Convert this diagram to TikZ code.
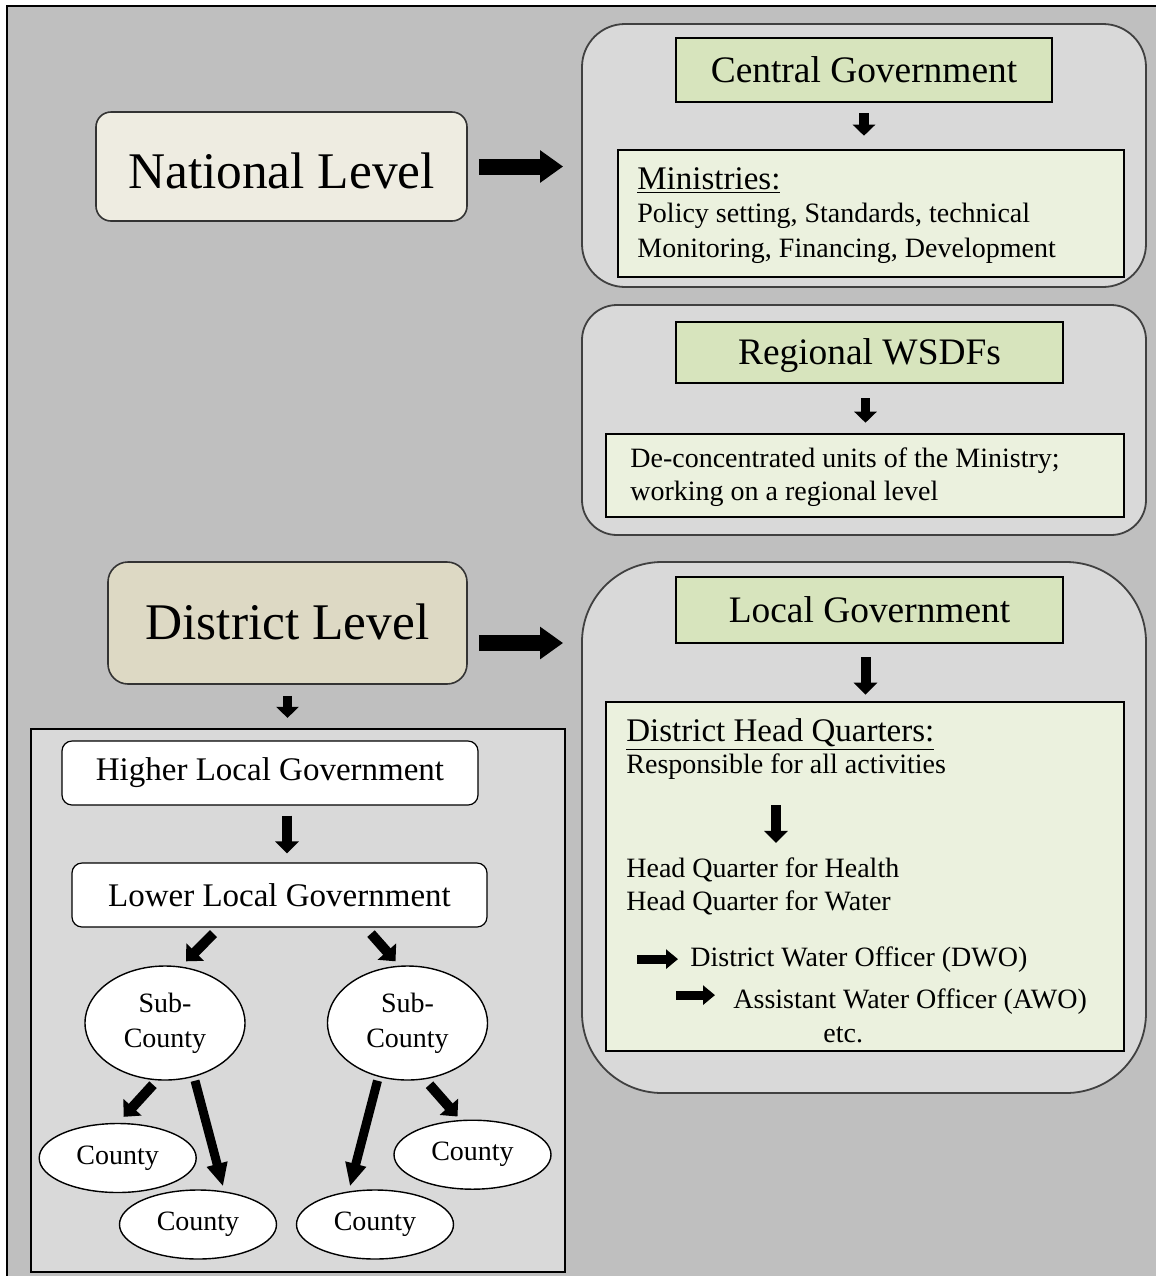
\documentclass[tikz,border=0pt]{standalone}
\usepackage{fontspec}
\setmainfont{Liberation Serif}
\usetikzlibrary{arrows.meta,shapes.geometric}
\definecolor{bggray}{HTML}{BFBFBF}
\definecolor{contgray}{HTML}{D9D9D9}
\definecolor{titlegreen}{HTML}{D7E4BD}
\definecolor{lightgreen}{HTML}{EBF1DE}
\definecolor{natlcream}{HTML}{EEECE1}
\definecolor{distbeige}{HTML}{DDD9C4}
\begin{document}
\begin{tikzpicture}[x=0.5pt,y=-0.5pt,
    cont/.style={draw=black!75,line width=0.9pt,fill=contgray,inner sep=0pt,minimum width=282pt},
    titlebox/.style={draw=black,line width=1.3pt,fill=titlegreen,inner sep=0pt,font=\fontsize{18.7}{22}\selectfont,text height=12.4pt,text depth=0pt},
    infobox/.style={draw=black,line width=1.3pt,fill=lightgreen,inner sep=0pt},
    levelbox/.style={draw=black!80,line width=0.8pt,inner sep=0pt,font=\fontsize{25.7}{30}\selectfont,text depth=0pt},
    govbox/.style={draw=black,line width=0.6pt,fill=white,rounded corners=5pt,inner sep=0pt,minimum height=32pt,font=\fontsize{16.5}{20}\selectfont},
    unit/.style={ellipse,draw=black,line width=0.7pt,fill=white,inner sep=0pt,align=center,font=\fontsize{14}{17.5}\selectfont},
    body/.style={anchor=base west,inner sep=0pt,font=\fontsize{14}{17.5}\selectfont},
    head/.style={anchor=base west,inner sep=0pt,font=\fontsize{16.5}{20}\selectfont},
    bigarr/.style={line width=8pt,-{Triangle[width=15.5pt,length=11.5pt]}},
    downarr/.style={line width=4.75pt,-{Triangle[width=11pt,length=5.5pt]}},
    midarr/.style={line width=5pt,-{Triangle[width=11.5pt,length=6pt]}},
    harr/.style={line width=4.5pt,-{Triangle[width=9.5pt,length=6pt]}},
    diagarr/.style={line width=5pt,-{Triangle[width=12pt,length=6.5pt]}},
    longarr/.style={line width=4.5pt,-{Triangle[width=10pt,length=11.5pt]}}]
\useasboundingbox (0,0) rectangle (1156,1276);
\fill[bggray] (7,6) rectangle (1156,1276);
\draw[line width=1pt] (7,1276) -- (7,6) -- (1156,6);

\node[cont,minimum height=131.5pt,rounded corners=21.5pt] (topc) at (864,155.5) {};
\node[cont,minimum height=115pt,rounded corners=17.5pt] (regc) at (864,420) {};
\node[cont,minimum height=265.5pt,rounded corners=40pt] (locc) at (864,827.5) {};

\node[titlebox,minimum width=188pt,minimum height=32pt] (cg) at (864,70) {Central Government};
\node[infobox,minimum width=253pt,minimum height=63.5pt] (mi) at (871,213.5) {};
\node[head] (mit) at (637,189) {\underline{Ministries:}};
\node[body] (mi1) at (637,222) {Policy setting, Standards, technical};
\node[body] (mi2) at (637,257) {Monitoring, Financing, Development};
\draw[downarr,shorten <=5pt,shorten >=6.5pt] (cg.south) -- (cg.south |- mi.north);

\node[titlebox,minimum width=193.5pt,minimum height=30.5pt] (rw) at (869.5,352.5) {Regional WSDFs};
\node[infobox,minimum width=259pt,minimum height=41.5pt] (dc) at (865,475.5) {};
\node[body] (dc1) at (630,467) {De-concentrated units of the Ministry;};
\node[body] (dc2) at (630,500) {working on a regional level};
\draw[downarr,shorten <=7pt,shorten >=5pt] ([xshift=-2pt]rw.south) -- ([xshift=-2pt]rw.south |- dc.north);

\node[titlebox,minimum width=193.5pt,minimum height=33pt] (lg) at (869.5,610) {Local Government};
\node[infobox,minimum width=259pt,minimum height=174.5pt] (hq) at (865,876.5) {};
\draw[midarr,shorten <=6.5pt,shorten >=3pt] ([xshift=-2pt]lg.south) -- ([xshift=-2pt]lg.south |- hq.north);
\node[head] (hqt) at (626,741) {\underline{District Head Quarters:}};
\node[body] (resp) at (626,773) {Responsible for all activities};
\node[body] (hqh) at (626,877) {Head Quarter for Health};
\node[body] (hqw) at (626,910) {Head Quarter for Water};
\node[body] (dwo) at (690,966) {District Water Officer (DWO)};
\node[body] (awo) at (733,1008) {Assistant Water Officer (AWO)};
\node[body] (etc) at (823,1042) {etc.};
\coordinate (hqx) at (776,0);
\draw[midarr,shorten <=13pt,shorten >=7pt] (resp.south -| hqx) -- (hqh.north -| hqx);
\draw[harr,shorten >=6pt] ([xshift=-26.5pt]dwo.west) -- (dwo.west);
\draw[harr,shorten >=9pt] ([xshift=-28.5pt,yshift=3pt]awo.west) -- ([yshift=3pt]awo.west);

\node[levelbox,fill=natlcream,rounded corners=7.5pt,minimum width=185.5pt,minimum height=54.5pt,text height=21.6pt] (natl) at (281.5,166.5) {National Level};
\node[levelbox,fill=distbeige,rounded corners=10pt,minimum width=179.5pt,minimum height=61pt,text height=16.4pt] (dist) at (287.5,623) {District Level};
\draw[bigarr,shorten <=5.5pt,shorten >=9pt] (natl.east) -- (natl.east -| topc.west);
\draw[bigarr,shorten <=5.5pt,shorten >=9pt] ([yshift=-10pt]dist.east) -- ([yshift=-10pt]dist.east -| locc.west);

\node[draw=black,line width=1.1pt,fill=contgray,inner sep=0pt,minimum width=267pt,minimum height=271.5pt] (lowbox) at (298,1000.5) {};
\draw[downarr,shorten <=5.5pt,shorten >=5pt] (dist.south) -- (dist.south |- lowbox.north);
\node[govbox,minimum width=208pt] (hlg) at (270,773) {Higher Local Government};
\node[govbox,minimum width=207.5pt] (llg) at (279.5,895) {Lower Local Government};
\draw[midarr,shorten <=5pt,shorten >=4.5pt] ([xshift=8.5pt]hlg.south) -- ([xshift=8.5pt]hlg.south |- llg.north);

\node[unit,minimum width=80pt,minimum height=57pt] (sc1) at (165,1023) {Sub-\\County};
\node[unit,minimum width=80pt,minimum height=57pt] (sc2) at (407.5,1023) {Sub-\\County};
\node[unit,minimum width=78.5pt,minimum height=34.5pt] (cl1) at (117.7,1158) {County};
\node[unit,minimum width=78.5pt,minimum height=34.5pt] (cl2) at (198,1224.5) {County};
\node[unit,minimum width=78.5pt,minimum height=34.5pt] (cr2) at (375,1224.5) {County};
\node[unit,minimum width=78.5pt,minimum height=34.5pt] (cr1) at (472.5,1154.7) {County};

\draw[diagarr] ([xshift=-33pt,yshift=-3pt]llg.south) -- ([xshift=10.5pt,yshift=2pt]sc1.north);
\draw[diagarr] ([xshift=45.75pt,yshift=-3pt]llg.south) -- ([xshift=-6pt,yshift=2pt]sc2.north);
\draw[diagarr] ([xshift=-6pt,yshift=-2pt]sc1.south) -- ([xshift=3pt,yshift=3pt]cl1.north);
\draw[longarr] ([xshift=15pt]sc1.south) -- ([xshift=12.5pt,yshift=1.5pt]cl2.north);
\draw[longarr] ([xshift=-15pt]sc2.south) -- ([xshift=-12.5pt,yshift=1.5pt]cr2.north);
\draw[diagarr] ([xshift=11pt,yshift=-2pt]sc2.south) -- ([xshift=-7.5pt,yshift=1.5pt]cr1.north);
\end{tikzpicture}
\end{document}
